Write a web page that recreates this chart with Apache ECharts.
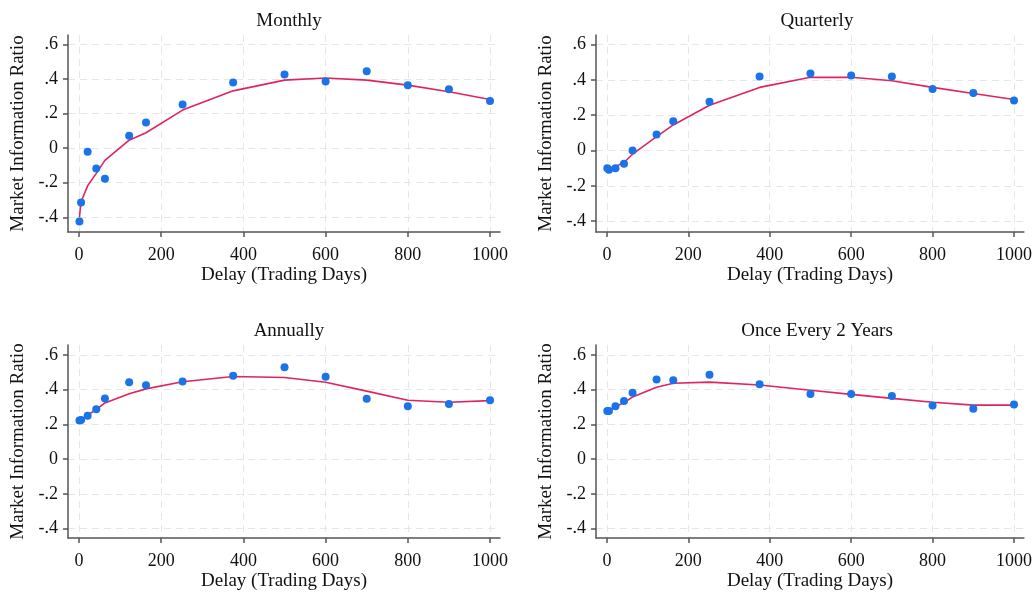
<!DOCTYPE html>
<html>
<head>
<meta charset="utf-8">
<script src="https://cdn.jsdelivr.net/npm/echarts@6/dist/echarts.min.js"></script>
<style>
  html, body { margin: 0; padding: 0; background: #fff; }
  #main { width: 1035px; height: 592px; }
</style>
</head>
<body>
<div id="main"></div>
<script>
var chart = echarts.init(document.getElementById('main'));

// delay in trading days (x of every point)
var days = [1, 5, 21, 42, 63, 122, 163, 252, 375, 500, 600, 700, 800, 900, 1000];

var monthlyPts = [-0.424, -0.314, -0.021, -0.118, -0.177, 0.071, 0.148, 0.252, 0.380, 0.426, 0.385, 0.445, 0.364, 0.341, 0.272];
var monthlyFit = [-0.400, -0.310, -0.218, -0.146, -0.071, 0.046, 0.089, 0.220, 0.331, 0.393, 0.405, 0.393, 0.364, 0.326, 0.281];

var quarterlyPts = [-0.100, -0.109, -0.100, -0.075, 0.000, 0.091, 0.166, 0.277, 0.419, 0.436, 0.426, 0.419, 0.349, 0.326, 0.283];
var quarterlyFit = [-0.106, -0.104, -0.090, -0.068, -0.021, 0.079, 0.145, 0.257, 0.358, 0.415, 0.415, 0.396, 0.358, 0.323, 0.289];

var annualPts = [0.222, 0.226, 0.250, 0.288, 0.350, 0.443, 0.426, 0.448, 0.480, 0.529, 0.475, 0.348, 0.305, 0.318, 0.339];
var annualFit = [0.220, 0.226, 0.254, 0.286, 0.324, 0.377, 0.405, 0.446, 0.476, 0.471, 0.443, 0.392, 0.339, 0.328, 0.337];

var biennialPts = [0.277, 0.277, 0.305, 0.335, 0.382, 0.459, 0.454, 0.486, 0.431, 0.375, 0.375, 0.364, 0.309, 0.290, 0.315];
var biennialFit = [0.273, 0.276, 0.301, 0.326, 0.358, 0.414, 0.437, 0.444, 0.427, 0.397, 0.373, 0.350, 0.328, 0.311, 0.311];

var xTicks = [0, 200, 400, 600, 800, 1000];
var yTicks = [-0.4, -0.2, 0, 0.2, 0.4, 0.6];

var titles = ['Monthly', 'Quarterly', 'Annually', 'Once Every 2 Years'];
var ptsList = [monthlyPts, quarterlyPts, annualPts, biennialPts];
var fitList = [monthlyFit, quarterlyFit, annualFit, biennialFit];

// plot boxes [left, top, width, height] and y range per panel
var boxes = [[68, 35, 432, 197], [596, 35, 432, 197], [68, 345, 432, 197], [596, 345, 432, 197]];
var yRange = [[-0.485, 0.654], [-0.462, 0.655], [-0.455, 0.658], [-0.455, 0.658]];

var font = 'Liberation Serif';
var dotColor = '#1a73e8';
var lineColor = '#e0245e';

function pairs(xs, ys) {
    return xs.map(function (x, i) { return [x, ys[i]]; });
}

function yFmt(v) {
    var r = Math.round(v * 10) / 10;
    if (r === 0) return '0';
    return String(r).replace('0.', '.');
}

function xFmt(v) {
    return String(Math.round(v));
}

var option = {
    backgroundColor: '#fff',
    animation: false,
    title: [],
    grid: [],
    xAxis: [],
    yAxis: [],
    series: []
};

boxes.forEach(function (b, i) {
    option.title.push({
        text: titles[i],
        left: b[0] + b[2] / 2,
        top: b[1] - 28,
        textAlign: 'center',
        textStyle: { fontFamily: font, fontSize: 19, fontWeight: 'normal', color: '#111' }
    });
    option.grid.push({ left: b[0], top: b[1], width: b[2], height: b[3] });
    option.xAxis.push({
        type: 'value',
        gridIndex: i,
        min: -26.8,
        max: 1024.3,
        name: 'Delay (Trading Days)',
        nameLocation: 'middle',
        nameGap: 34,
        nameTextStyle: { fontFamily: font, fontSize: 19, color: '#111' },
        axisLine: { show: true, onZero: false, lineStyle: { color: '#555', width: 1.5 } },
        axisTick: { show: true, length: 5, customValues: xTicks, lineStyle: { color: '#555', width: 1.5 } },
        axisLabel: { customValues: xTicks, margin: 14, formatter: xFmt, fontFamily: font, fontSize: 18, color: '#111' },
        splitLine: { show: true, lineStyle: { color: '#e6e6e6', type: [7, 5], width: 1 } }
    });
    option.yAxis.push({
        type: 'value',
        gridIndex: i,
        min: yRange[i][0],
        max: yRange[i][1],
        name: 'Market Information Ratio',
        nameLocation: 'middle',
        nameGap: 40,
        nameTextStyle: { fontFamily: font, fontSize: 19, color: '#111' },
        axisLine: { show: true, onZero: false, lineStyle: { color: '#555', width: 1.5 } },
        axisTick: { show: true, length: 5, customValues: yTicks, lineStyle: { color: '#555', width: 1.5 } },
        axisLabel: { customValues: yTicks, margin: 10, formatter: yFmt, fontFamily: font, fontSize: 18, color: '#111' },
        splitLine: { show: true, lineStyle: { color: '#e6e6e6', type: [7, 5], width: 1 } }
    });
    option.series.push({
        type: 'line',
        xAxisIndex: i,
        yAxisIndex: i,
        data: pairs(days, fitList[i]),
        showSymbol: false,
        lineStyle: { color: lineColor, width: 1.6 },
        z: 2
    });
    option.series.push({
        type: 'scatter',
        xAxisIndex: i,
        yAxisIndex: i,
        data: pairs(days, ptsList[i]),
        symbolSize: 8,
        itemStyle: { color: dotColor, opacity: 1 },
        z: 3
    });
});

chart.setOption(option);
</script>
</body>
</html>
